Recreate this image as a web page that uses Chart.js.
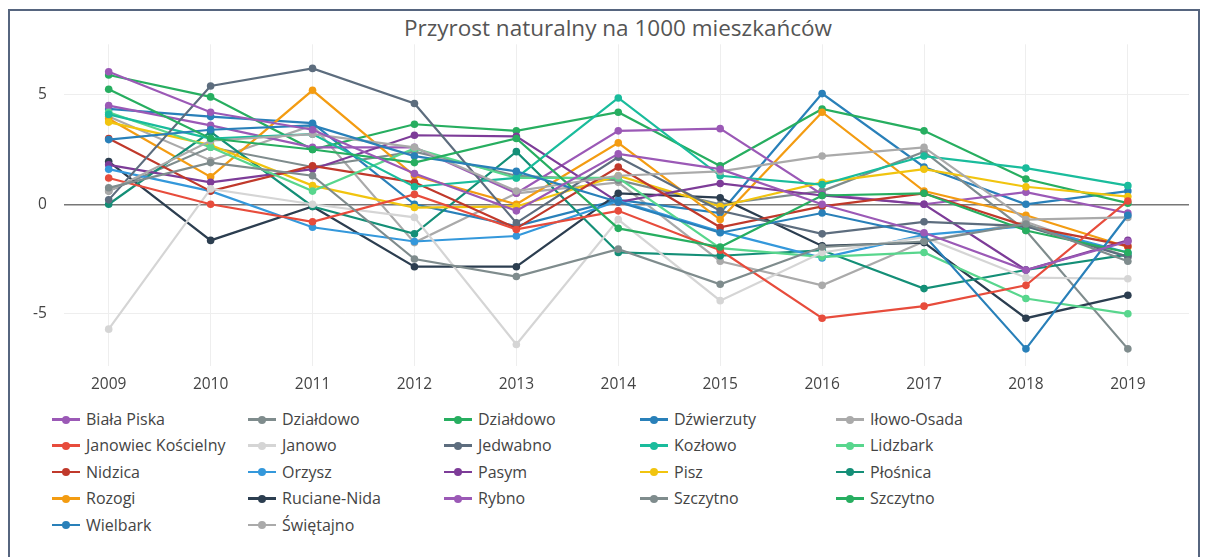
<!DOCTYPE html>
<html><head><meta charset="utf-8">
<script src="https://cdn.jsdelivr.net/npm/chart.js@4/dist/chart.umd.min.js"></script>
<style>
html,body{margin:0;padding:0;background:#fff;width:1207px;height:557px;overflow:hidden;font-family:"Open Sans",sans-serif;}
#frame{position:absolute;left:8px;top:9px;width:1192px;height:560px;border:2px solid #56657f;box-sizing:border-box;}
#title{position:absolute;left:0;top:12px;width:1236px;text-align:center;font-size:22.5px;color:#555;}
#wrap{position:absolute;left:10px;top:18px;width:1188px;height:385px;}
#legend{position:absolute;left:52px;top:410px;display:grid;grid-template-columns:196px 196px 196px 196px 196px;row-gap:8.4px;}
.li{display:flex;align-items:center;height:18px;font-size:16px;color:#444;white-space:nowrap;}
.mk{position:relative;width:28px;height:18px;margin-right:6px;}
.mk .ln{position:absolute;left:0;top:8px;width:28px;height:2.5px;}
.mk .dt{position:absolute;left:10px;top:5.5px;width:8px;height:8px;border-radius:50%;}
</style></head>
<body>
<div id="frame"></div>
<div id="title">Przyrost naturalny na 1000 mieszkańców</div>
<div id="wrap"><canvas id="c"></canvas></div>
<div id="legend"></div>
<script>
const years = [2009,2010,2011,2012,2013,2014,2015,2016,2017,2018,2019];
const yTicks = [-5,0,5];
const names = ["Biała Piska","Działdowo","Działdowo","Dźwierzuty","Iłowo-Osada","Janowiec Kościelny","Janowo","Jedwabno","Kozłowo","Lidzbark","Nidzica","Orzysz","Pasym","Pisz","Płośnica","Rozogi","Ruciane-Nida","Rybno","Szczytno","Szczytno","Wielbark","Świętajno"];
const bialaPiska   = [6.05,4.2,3.4,1.4,-0.3,2.3,1.6,0.0,-1.3,-3.0,-1.7];
const dzialdowoG   = [0.75,1.9,1.3,-2.5,-3.3,-2.05,-3.65,-1.95,-1.7,-0.9,-2.6];
const dzialdowoZ   = [5.25,3.0,2.5,1.9,3.0,-1.1,-1.95,0.4,0.5,-1.2,-2.2];
const dzwierzuty   = [2.95,3.4,3.6,2.2,1.5,0.1,-1.3,-0.4,-1.4,-6.6,-0.5];
const ilowoOsada   = [0.6,2.9,3.2,2.6,0.6,1.3,1.5,2.2,2.6,-0.7,-0.6];
const janowiec     = [1.2,0.0,-0.8,0.45,-1.15,-0.3,-2.1,-5.2,-4.65,-3.7,0.15];
const janowo       = [-5.7,0.7,0.0,-0.6,-6.4,-0.7,-4.4,-2.2,-1.5,-3.35,-3.4];
const jedwabno     = [0.2,5.4,6.2,4.6,-0.85,2.15,-0.3,-1.35,-0.8,-1.0,-2.4];
const kozlowo      = [4.1,3.0,3.2,0.8,1.2,4.85,1.3,0.9,2.2,1.65,0.85];
const lidzbark     = [4.2,2.6,0.6,2.55,1.2,1.2,-2.0,-2.4,-2.2,-4.3,-5.0];
const nidzica      = [3.0,0.6,1.75,1.0,-1.1,1.7,-1.05,-0.1,0.5,-1.0,-1.9];
const orzysz       = [1.6,0.6,-1.05,-1.7,-1.45,0.15,-1.25,-2.45,-1.4,-1.0,-2.2];
const pasym        = [1.8,1.0,1.6,3.15,3.1,0.1,0.95,0.4,0.0,-3.0,-1.65];
const pisz         = [3.75,2.7,0.85,-0.15,-0.1,1.3,-0.1,1.0,1.6,0.8,0.35];
const plosnica     = [0.0,3.3,-0.1,-1.35,2.4,-2.2,-2.35,-2.1,-3.85,-3.0,-2.3];
const rozogi       = [3.9,1.25,5.2,1.3,0.0,2.8,-0.7,4.2,0.6,-0.5,-1.95];
const rucianeNida  = [1.95,-1.65,-0.1,-2.85,-2.85,0.5,0.3,-1.9,-1.75,-5.2,-4.15];
const rybno        = [4.5,3.6,2.6,2.6,0.5,3.35,3.45,0.45,0.0,0.55,-0.4];
const szczytnoG    = [0.6,2.6,1.7,2.4,1.3,1.1,0.0,0.6,2.4,-1.2,-6.6];
const szczytnoZ    = [5.9,4.9,2.5,3.65,3.35,4.2,1.75,4.35,3.35,1.15,0.05];
const wielbark     = [4.35,4.0,3.7,0.0,-1.0,0.2,-0.4,5.05,1.7,0.0,0.6];
const swietajno    = [4.0,2.0,3.6,-1.75,0.5,1.0,-2.6,-3.7,-1.7,-0.8,-2.4];

const series = [bialaPiska,dzialdowoG,dzialdowoZ,dzwierzuty,ilowoOsada,janowiec,janowo,jedwabno,kozlowo,lidzbark,nidzica,orzysz,pasym,pisz,plosnica,rozogi,rucianeNida,rybno,szczytnoG,szczytnoZ,wielbark,swietajno];
const colors = ["#9b59b6","#7f8c8d","#27ae60","#2980b9","#aaaaaa","#e74c3c","#d5d5d5","#5d6d7e","#1abc9c","#58d68d","#c0392b","#3498db","#7d3c98","#f1c40f","#148f77","#f39c12","#2c3e50","#9b59b6","#7f8c8d","#27ae60","#2980b9","#aaaaaa"];

const datasets = series.map((vals,i)=>({
  label: names[i],
  data: vals.map((v,j)=>({x:years[j],y:v})),
  borderColor: colors[i],
  backgroundColor: colors[i],
  borderWidth: 2.2,
  pointRadius: 3.8,
  pointHoverRadius: 3.8,
  pointBorderWidth: 0,
  tension: 0
}));

new Chart(document.getElementById('c'), {
  type: 'line',
  data: { datasets },
  options: {
    animation: false,
    responsive: true,
    maintainAspectRatio: false,
    layout: { padding: { left: 6, right: 9, top: 2, bottom: 0 } },
    plugins: { legend: { display: false }, title: { display: false }, tooltip: { enabled: false } },
    scales: {
      x: {
        type: 'linear', min: 2008.56, max: 2019.6,
        afterBuildTicks: s => { s.ticks = years.map(v=>({value:v})); },
        grid: { color: '#eeeeee', lineWidth: 1, drawTicks: false },
        border: { display: false },
        ticks: { color: '#444', font: { family: 'Open Sans', size: 15.5 }, padding: 9, callback: v => String(v), maxRotation: 0 }
      },
      y: {
        min: -7.4, max: 7.3,
        afterBuildTicks: s => { s.ticks = yTicks.map(v=>({value:v})); },
        grid: { color: c => c.tick && c.tick.value === 0 ? '#777777' : '#eeeeee', lineWidth: c => c.tick && c.tick.value === 0 ? 1.5 : 1, drawTicks: false },
        border: { display: false },
        ticks: { color: '#444', font: { family: 'Open Sans', size: 15.5 }, padding: 17, callback: v => String(v) }
      }
    }
  }
});

const lg = document.getElementById('legend');
names.forEach((n,i)=>{
  const d = document.createElement('div'); d.className='li';
  d.innerHTML = '<span class="mk"><span class="ln" style="background:'+colors[i]+'"></span><span class="dt" style="background:'+colors[i]+'"></span></span>';
  const t = document.createElement('span'); t.textContent = n; d.appendChild(t);
  lg.appendChild(d);
});
</script>
</body></html>
